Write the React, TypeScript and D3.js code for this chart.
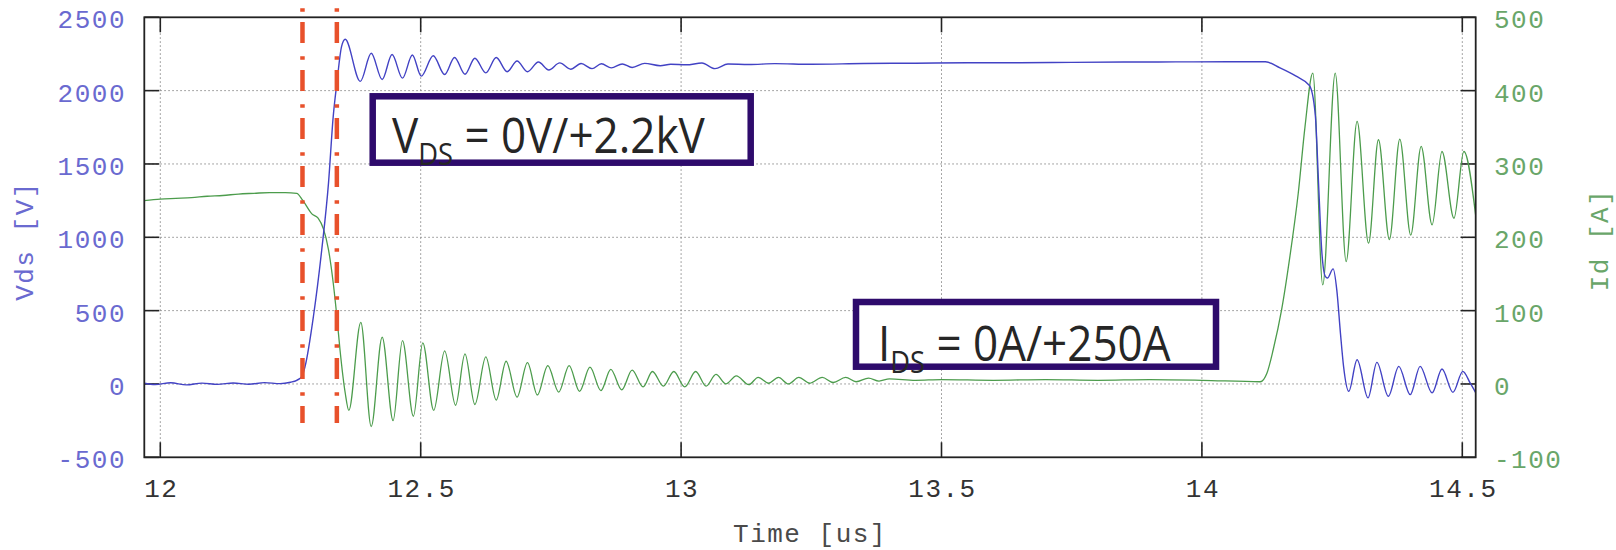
import React, { useEffect, useRef } from 'react';
import * as d3 from 'd3';

const W = 1616, H = 550;
const FRAME = { left: 144.3, right: 1475.7, top: 17.3, bottom: 457.3 };
const TICK_LEN = 15;

const X_TICKS = [12, 12.5, 13, 13.5, 14, 14.5];
const VDS_TICKS = [-500, 0, 500, 1000, 1500, 2000, 2500];
const ID_TICKS = [-100, 0, 100, 200, 300, 400, 500];

// switching instants marked with dash-dot lines (us)
const MARKERS = [12.273, 12.339];

// Vds [V]
const VDS_T = [
  11.969, 11.99, 12.02, 12.05, 12.08, 12.11, 12.14, 12.17, 12.2, 12.23, 12.25, 12.262,
  12.272, 12.278, 12.294, 12.31, 12.323, 12.332, 12.339, 12.348, 12.355,
  12.384, 12.405, 12.426, 12.445, 12.465, 12.484, 12.501, 12.524, 12.546, 12.565,
  12.585, 12.604, 12.625, 12.645, 12.666, 12.685, 12.705, 12.726, 12.746, 12.767,
  12.788, 12.808, 12.829, 12.847, 12.866, 12.887, 12.906,
  12.93, 12.96, 12.98, 13.01, 13.04, 13.065, 13.09, 13.13, 13.18, 13.25, 13.35, 13.45,
  13.55, 13.65, 13.75, 13.85, 13.95, 14.05, 14.122,
  14.15, 14.18, 14.205, 14.208, 14.218, 14.224, 14.23, 14.237, 14.241, 14.252, 14.259,
  14.266, 14.272, 14.282, 14.298, 14.319, 14.336, 14.358, 14.378, 14.4, 14.419,
  14.442, 14.461, 14.482, 14.501, 14.515, 14.526,
];
const VDS_V = [
  5, -4, 8, -6, 6, -3, 7, -2, 9, 2, 12, 25,
  52, 120, 460, 915, 1371, 1823, 2050, 2300, 2350,
  2063, 2255, 2076, 2246, 2085, 2243, 2099, 2238, 2110, 2226,
  2112, 2221, 2121, 2226, 2129, 2202, 2129, 2195, 2141, 2189,
  2146, 2185, 2150, 2183, 2155, 2182, 2158,
  2186, 2170, 2180, 2176, 2188, 2150, 2182, 2178, 2184, 2180, 2185, 2187,
  2190, 2190, 2193, 2195, 2196, 2197, 2197,
  2155, 2100, 2040, 2027, 1823, 1369, 915, 733, 722, 785, 642,
  347, 120, -50, 165, -95, 147, -84, 120, -73, 120,
  -61, 102, -57, 86, 7, -61,
];

// Id [A]
const ID_T = [
  11.969, 12.0, 12.03, 12.06, 12.09, 12.12, 12.15, 12.18, 12.21, 12.24, 12.262,
  12.273, 12.291, 12.303, 12.313, 12.323, 12.332, 12.339, 12.345, 12.355, 12.362,
  12.385, 12.405, 12.426, 12.447, 12.465, 12.486, 12.504, 12.525, 12.546, 12.567,
  12.585, 12.604, 12.625, 12.645, 12.664, 12.685, 12.705, 12.724, 12.744, 12.765,
  12.785, 12.805, 12.825, 12.846, 12.865, 12.886, 12.906, 12.927, 12.945, 12.966,
  12.986, 13.007, 13.028, 13.048, 13.067, 13.086, 13.106, 13.13, 13.148, 13.168,
  13.187, 13.206, 13.226, 13.247, 13.271, 13.292, 13.316, 13.336, 13.36, 13.38,
  13.4, 13.45, 13.5, 13.6, 13.7, 13.8, 13.9, 14.0, 14.112,
  14.125, 14.137, 14.153, 14.169, 14.185, 14.198, 14.213, 14.232, 14.256, 14.277,
  14.298, 14.32, 14.339, 14.36, 14.38, 14.401, 14.421, 14.442, 14.461, 14.484,
  14.503, 14.526,
];
const ID_A = [
  250, 252, 253, 254, 256, 257, 259, 260, 261, 261, 260,
  251, 232, 226, 212, 183, 138, 92, 47, -12, -36,
  84, -58, 64, -50, 59, -44, 56, -36, 45, -29,
  41, -28, 37, -22, 31, -18, 29, -15, 25, -11,
  25, -10, 23, -9, 20, -8, 19, -4, 17, -3,
  17, -4, 17, -3, 13, 0, 11, -1, 9, 1,
  9, 0, 9, 1, 9, 2, 9, 3, 8, 4,
  7, 5, 6, 5, 6, 5, 6, 5, 3,
  15, 47, 101, 174, 260, 351, 424, 135, 424, 167,
  358, 192, 333, 197, 334, 203, 324, 217, 317, 226,
  317, 228,
];

const VDS_COLOR = '#4242c4';
const ID_COLOR = '#4c9c4c';
const BOX_COLOR = '#2e0b6c';
const MONO = "'Liberation Mono', 'DejaVu Sans Mono', monospace";
const SANS = "'Open Sans', 'Noto Sans', sans-serif";

export default function App() {
  const ref = useRef<SVGSVGElement | null>(null);

  useEffect(() => {
    const svg = d3.select(ref.current);
    svg.selectAll('*').remove();

    const x = d3.scaleLinear().domain([12, 14.5]).range([160.3, 1462.3]);
    const yV = d3.scaleLinear().domain([-500, 2500]).range([FRAME.bottom, FRAME.top]);
    const yI = d3.scaleLinear().domain([-100, 500]).range([FRAME.bottom, FRAME.top]);

    svg.append('rect').attr('width', W).attr('height', H).attr('fill', '#fff');

    svg.append('defs').append('clipPath').attr('id', 'plot-clip')
      .append('rect')
      .attr('x', FRAME.left).attr('y', FRAME.top)
      .attr('width', FRAME.right - FRAME.left).attr('height', FRAME.bottom - FRAME.top);

    // grid
    const grid = svg.append('g').attr('stroke', '#8a8a8a').attr('stroke-width', 1).attr('stroke-dasharray', '1.5,2.5');
    grid.selectAll('line.h').data(VDS_TICKS.slice(1, -1)).join('line')
      .attr('x1', FRAME.left).attr('x2', FRAME.right)
      .attr('y1', d => yV(d)).attr('y2', d => yV(d));
    grid.selectAll('line.v').data(X_TICKS).join('line')
      .attr('x1', d => x(d)).attr('x2', d => x(d))
      .attr('y1', FRAME.top).attr('y2', FRAME.bottom);

    // tick marks
    const ticks = svg.append('g').attr('stroke', '#222').attr('stroke-width', 1.6);
    VDS_TICKS.forEach(d => {
      ticks.append('line').attr('x1', FRAME.left).attr('x2', FRAME.left + TICK_LEN).attr('y1', yV(d)).attr('y2', yV(d));
    });
    ID_TICKS.forEach(d => {
      ticks.append('line').attr('x1', FRAME.right - TICK_LEN).attr('x2', FRAME.right).attr('y1', yI(d)).attr('y2', yI(d));
    });
    X_TICKS.forEach(d => {
      ticks.append('line').attr('x1', x(d)).attr('x2', x(d)).attr('y1', FRAME.bottom).attr('y2', FRAME.bottom - TICK_LEN);
      ticks.append('line').attr('x1', x(d)).attr('x2', x(d)).attr('y1', FRAME.top).attr('y2', FRAME.top + TICK_LEN);
    });

    // traces
    const plot = svg.append('g').attr('clip-path', 'url(#plot-clip)');
    const idPts = ID_T.map((t, i) => [t, ID_A[i]] as [number, number]);
    const vdsPts = VDS_T.map((t, i) => [t, VDS_V[i]] as [number, number]);
    const lineI = d3.line<[number, number]>().x(d => x(d[0])).y(d => yI(d[1])).curve(d3.curveMonotoneX);
    const lineV = d3.line<[number, number]>().x(d => x(d[0])).y(d => yV(d[1])).curve(d3.curveMonotoneX);
    plot.append('path').attr('d', lineI(idPts)).attr('fill', 'none').attr('stroke', ID_COLOR).attr('stroke-width', 1.3);
    plot.append('path').attr('d', lineV(vdsPts)).attr('fill', 'none').attr('stroke', VDS_COLOR).attr('stroke-width', 1.4);

    // frame
    svg.append('rect')
      .attr('x', FRAME.left).attr('y', FRAME.top)
      .attr('width', FRAME.right - FRAME.left).attr('height', FRAME.bottom - FRAME.top)
      .attr('fill', 'none').attr('stroke', '#222').attr('stroke-width', 1.8);

    // tick labels
    const label = (sel: any) => sel.attr('font-family', MONO).attr('font-size', 26).attr('letter-spacing', 1.5);
    VDS_TICKS.forEach(d => {
      label(svg.append('text')).attr('x', 126).attr('y', yV(d) + 11)
        .attr('text-anchor', 'end').attr('fill', '#6a6ad0').text(String(d));
    });
    ID_TICKS.forEach(d => {
      label(svg.append('text')).attr('x', 1494).attr('y', yI(d) + 11)
        .attr('fill', '#69a669').text(String(d));
    });
    X_TICKS.forEach(d => {
      label(svg.append('text')).attr('x', x(d) + 1).attr('y', 497)
        .attr('text-anchor', 'middle').attr('fill', '#333').text(String(d));
    });

    // axis titles
    label(svg.append('text')).attr('x', (FRAME.left + FRAME.right) / 2).attr('y', 542)
      .attr('text-anchor', 'middle').attr('fill', '#4a4a4a').text('Time [us]');
    label(svg.append('text')).attr('transform', 'translate(33,241) rotate(-90)')
      .attr('text-anchor', 'middle').attr('fill', '#6a6ad0').text('Vds [V]');
    label(svg.append('text')).attr('transform', 'translate(1608,240) rotate(-90)')
      .attr('text-anchor', 'middle').attr('fill', '#69a669').text('Id [A]');

    // switching markers
    svg.selectAll('line.marker').data(MARKERS).join('line')
      .attr('x1', d => x(d)).attr('x2', d => x(d))
      .attr('y1', 8.3).attr('y2', 423)
      .attr('stroke', '#e8512b').attr('stroke-width', 4.5)
      .attr('stroke-dasharray', '3.4,10.3,21,13.3');

    // annotation boxes
    const boxes = [
      { x0: 372.7, y0: 96.3, x1: 750.7, y1: 162.7, tx: 392, ty: 153, main: 'V', rest: ' = 0V/+2.2kV' },
      { x0: 856, y0: 302, x1: 1216, y1: 366.7, tx: 878, ty: 361, main: 'I', rest: ' = 0A/+250A' },
    ];
    boxes.forEach(b => {
      svg.append('rect')
        .attr('x', b.x0).attr('y', b.y0).attr('width', b.x1 - b.x0).attr('height', b.y1 - b.y0)
        .attr('fill', '#fff').attr('stroke', BOX_COLOR).attr('stroke-width', 6.5);
      const t = svg.append('g').attr('transform', `translate(${b.tx},${b.ty}) scale(0.88,1)`)
        .append('text').attr('font-family', SANS).attr('font-size', 50).attr('fill', '#262626');
      t.append('tspan').text(b.main);
      t.append('tspan').attr('font-size', 31).attr('dy', 12).text('DS');
      t.append('tspan').attr('font-size', 50).attr('dy', -12).text(b.rest);
    });
  }, []);

  return (
    <svg ref={ref} width={W} height={H} style={{ position: 'absolute', left: 0, top: 0, display: 'block' }} />
  );
}
